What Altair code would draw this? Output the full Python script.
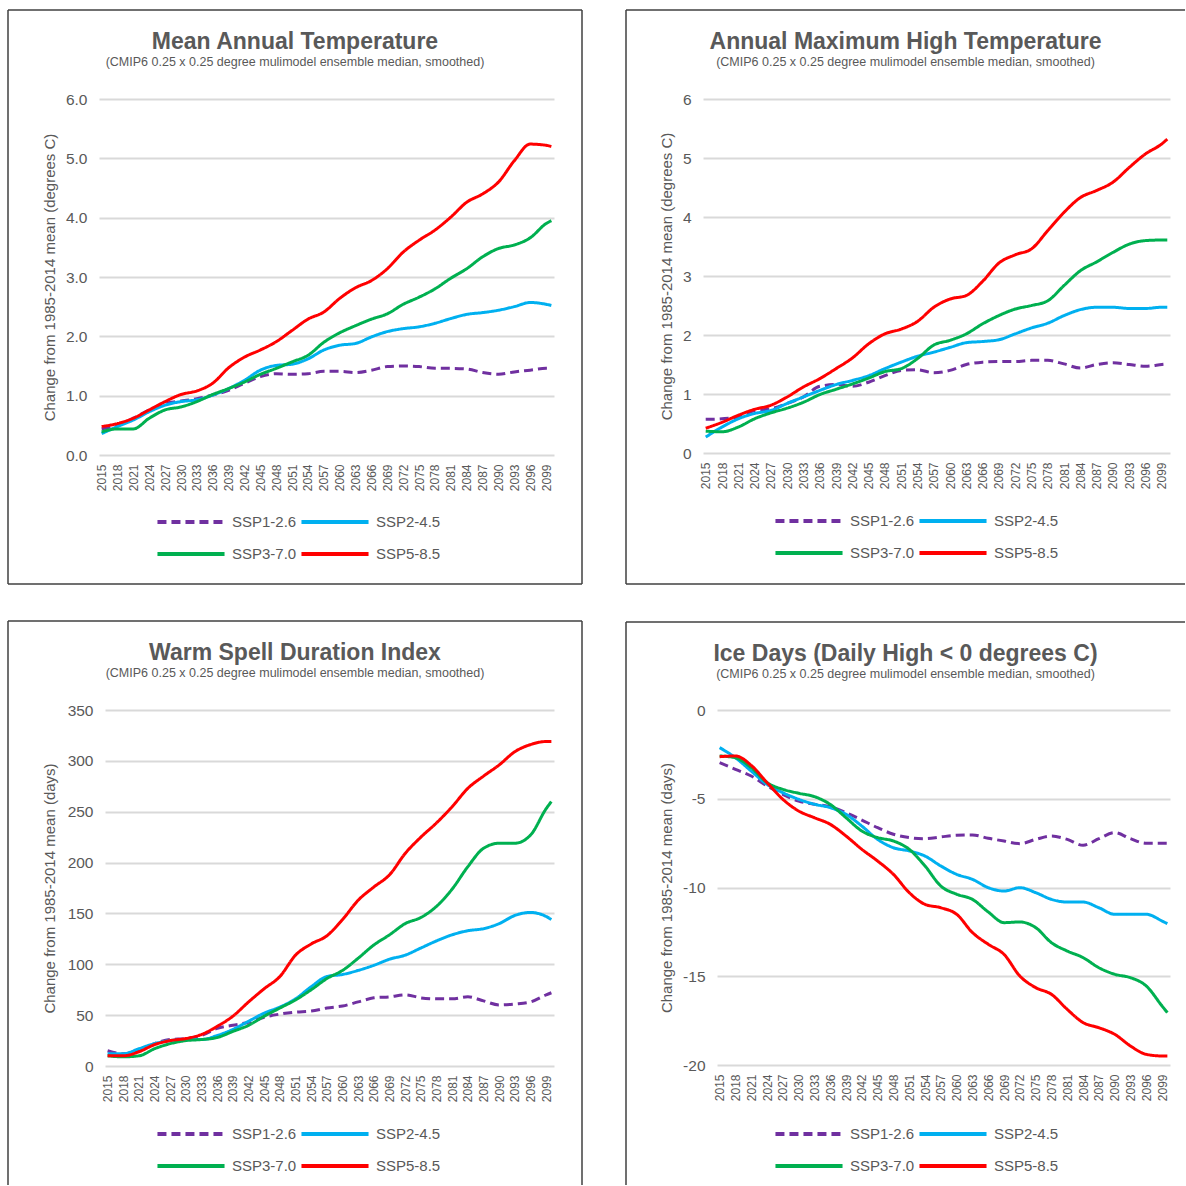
import altair as alt
import pandas as pd

# Smoothed ensemble-median projections, read every third year (plus 2100)
years = [2015, 2018, 2021, 2024, 2027, 2030, 2033, 2036, 2039, 2042,
         2045, 2048, 2051, 2054, 2057, 2060, 2063, 2066, 2069, 2072,
         2075, 2078, 2081, 2084, 2087, 2090, 2093, 2096, 2099, 2100]
tick_years = list(range(2015, 2100, 3))

scenarios = ["SSP1-2.6", "SSP2-4.5", "SSP3-7.0", "SSP5-8.5"]
legend_order = ["SSP1-2.6", "SSP3-7.0", "SSP2-4.5", "SSP5-8.5"]
colors = ["#7030A0", "#00B0F0", "#00B050", "#FF0000"]
dashes = [[9, 5], [1, 0], [1, 0], [1, 0]]

# Mean annual temperature change (degrees C)
tmean_ssp126 = [0.44, 0.50, 0.62, 0.76, 0.87, 0.91, 0.95, 1.01, 1.09, 1.21, 1.32, 1.37, 1.36, 1.37, 1.41,
                1.41, 1.39, 1.43, 1.49, 1.50, 1.49, 1.46, 1.46, 1.45, 1.39, 1.36, 1.40, 1.43, 1.46, 1.46]
tmean_ssp245 = [0.36, 0.48, 0.59, 0.73, 0.84, 0.90, 0.93, 1.01, 1.12, 1.26, 1.43, 1.51, 1.53, 1.62, 1.77,
                1.85, 1.88, 1.99, 2.08, 2.13, 2.16, 2.22, 2.30, 2.37, 2.40, 2.44, 2.50, 2.57, 2.54, 2.52]
tmean_ssp370 = [0.39, 0.44, 0.44, 0.62, 0.76, 0.81, 0.90, 1.02, 1.12, 1.23, 1.36, 1.46, 1.57, 1.68, 1.90,
                2.06, 2.18, 2.29, 2.38, 2.54, 2.66, 2.80, 2.98, 3.14, 3.34, 3.48, 3.54, 3.66, 3.90, 3.95]
tmean_ssp585 = [0.48, 0.53, 0.62, 0.76, 0.90, 1.02, 1.08, 1.21, 1.47, 1.65, 1.77, 1.91, 2.10, 2.29, 2.41,
                2.64, 2.82, 2.94, 3.14, 3.42, 3.62, 3.79, 4.01, 4.26, 4.40, 4.60, 4.96, 5.24, 5.22, 5.20]

# Annual maximum high temperature change (degrees C)
tmax_ssp126 = [0.57, 0.58, 0.61, 0.72, 0.75, 0.84, 0.95, 1.13, 1.16, 1.13, 1.20, 1.31, 1.40, 1.41, 1.36,
               1.40, 1.50, 1.54, 1.55, 1.55, 1.57, 1.57, 1.51, 1.44, 1.50, 1.53, 1.50, 1.47, 1.50, 1.51]
tmax_ssp245 = [0.27, 0.44, 0.58, 0.67, 0.72, 0.84, 0.95, 1.06, 1.16, 1.23, 1.31, 1.43, 1.54, 1.64, 1.71,
               1.79, 1.87, 1.89, 1.92, 2.02, 2.12, 2.20, 2.33, 2.43, 2.47, 2.47, 2.45, 2.45, 2.47, 2.47]
tmax_ssp370 = [0.37, 0.36, 0.44, 0.58, 0.68, 0.76, 0.86, 0.99, 1.08, 1.17, 1.27, 1.38, 1.43, 1.60, 1.83,
               1.91, 2.02, 2.19, 2.33, 2.44, 2.50, 2.58, 2.84, 3.09, 3.24, 3.40, 3.54, 3.60, 3.61, 3.61]
tmax_ssp585 = [0.42, 0.52, 0.64, 0.74, 0.81, 0.95, 1.12, 1.26, 1.43, 1.61, 1.85, 2.02, 2.10, 2.23, 2.47,
               2.61, 2.67, 2.91, 3.22, 3.36, 3.46, 3.77, 4.08, 4.33, 4.45, 4.59, 4.84, 5.07, 5.24, 5.32]

# Warm spell duration index change (days)
wsdi_ssp126 = [15, 12, 15, 22, 26, 27, 30, 37, 40, 43, 48, 51, 53, 54, 57,
               59, 63, 67, 68, 70, 67, 66, 66, 68, 64, 60, 61, 63, 70, 72]
wsdi_ssp245 = [12, 12, 17, 22, 25, 26, 26, 30, 36, 44, 52, 58, 66, 78, 88,
               90, 94, 99, 105, 109, 116, 123, 129, 133, 135, 140, 148, 151, 147, 144]
wsdi_ssp370 = [10, 9, 10, 17, 22, 25, 26, 28, 34, 40, 49, 57, 65, 75, 86,
               94, 106, 119, 129, 140, 146, 157, 174, 196, 214, 219, 219, 227, 253, 260]
wsdi_ssp585 = [10, 10, 14, 21, 25, 27, 31, 39, 49, 63, 76, 88, 109, 120, 128,
               144, 163, 176, 188, 209, 225, 239, 255, 273, 285, 296, 309, 316, 319, 319]

# Ice days (daily high below 0 degrees C) change (days)
ice_ssp126 = [-2.97, -3.34, -3.72, -4.28, -4.75, -5.13, -5.31, -5.45, -5.78, -6.20, -6.63, -7.00, -7.19, -7.25, -7.15,
              -7.06, -7.04, -7.23, -7.38, -7.53, -7.29, -7.10, -7.29, -7.62, -7.25, -6.91, -7.25, -7.51, -7.51, -7.51]
ice_ssp245 = [-2.12, -2.69, -3.44, -4.19, -4.66, -5.03, -5.31, -5.50, -5.88, -6.54, -7.29, -7.76, -7.94, -8.23, -8.79,
              -9.26, -9.54, -10.01, -10.20, -10.01, -10.29, -10.67, -10.82, -10.82, -11.14, -11.51, -11.51, -11.51, -11.89, -12.04]
ice_ssp370 = [-2.59, -2.69, -3.25, -4.09, -4.47, -4.69, -4.88, -5.32, -6.07, -6.82, -7.19, -7.38, -7.85, -8.79, -9.92,
              -10.38, -10.67, -11.38, -11.98, -11.94, -12.26, -13.11, -13.58, -13.95, -14.52, -14.89, -15.08, -15.55, -16.68, -17.05]
ice_ssp585 = [-2.63, -2.59, -3.12, -4.09, -5.03, -5.69, -6.07, -6.44, -7.10, -7.85, -8.51, -9.26, -10.29, -10.95, -11.14,
              -11.51, -12.54, -13.20, -13.77, -14.99, -15.64, -16.02, -16.87, -17.61, -17.90, -18.27, -18.93, -19.40, -19.49, -19.49]

SUBTITLE = "(CMIP6 0.25 x 0.25 degree mulimodel ensemble median, smoothed)"
FONT = "Liberation Sans"
TEXT = "#595959"
GRID = "#d9d9d9"
BOX = "#404040"


def frame_rules(left, right, top, bottom, sides):
    """Panel border drawn as separate rules; sides the page edge cuts off are skipped."""
    one = pd.DataFrame({"k": [0]})
    segs = {
        "top": dict(x=alt.value(left), x2=alt.value(right), y=alt.value(top)),
        "bottom": dict(x=alt.value(left), x2=alt.value(right), y=alt.value(bottom)),
        "left": dict(y=alt.value(top), y2=alt.value(bottom), x=alt.value(left)),
        "right": dict(y=alt.value(top), y2=alt.value(bottom), x=alt.value(right)),
    }
    return [
        alt.Chart(one).mark_rule(stroke=BOX, strokeWidth=1.5).encode(**segs[s])
        for s in sides
    ]


def panel(title, ytitle, series, ydomain, ystep, yfmt, width, height,
          frame, sides, legend_xy, inset=0, title_pad=8, plain_minus=False):
    rows = []
    for name, vals in zip(scenarios, series):
        for yr, v in zip(years, vals):
            rows.append({"year": yr, "scenario": name, "value": v})
    df = pd.DataFrame(rows)

    yvals = []
    v = ydomain[0]
    while v <= ydomain[1] + 1e-9:
        yvals.append(round(v, 6))
        v += ystep

    legend = alt.Legend(
        orient="none", legendX=legend_xy[0], legendY=legend_xy[1],
        columns=2, values=legend_order, title=None,
        symbolType="stroke", symbolSize=4500, symbolStrokeWidth=4,
        clipHeight=16,
        labelFont=FONT, labelFontSize=15, labelColor=TEXT,
        labelOffset=5, columnPadding=2, rowPadding=16,
    )

    xscale = alt.Scale(domain=[2014.5, 2100.5], nice=False, zero=False)
    if inset:
        # plot area starts a little right of the column's shared origin
        xscale = alt.Scale(domain=[2014.5, 2100.5], nice=False, zero=False,
                           range=[inset, width])

    yaxis_kw = dict(values=yvals, format=yfmt, title=ytitle,
                    grid=True, gridColor=GRID, gridWidth=1.8,
                    domain=False, ticks=False,
                    labelFont=FONT, labelFontSize=15.5, labelColor=TEXT,
                    labelPadding=12,
                    titleFont=FONT, titleFontSize=15, titleColor=TEXT,
                    titleFontWeight="normal", titlePadding=title_pad)
    if inset:
        yaxis_kw["offset"] = -inset
    if plain_minus:
        # negative labels written with an ASCII hyphen
        yaxis_kw["labelExpr"] = "'' + datum.value"

    lines = alt.Chart(df).mark_line(
        strokeWidth=3, interpolate="monotone", strokeJoin="round"
    ).encode(
        x=alt.X("year:Q", scale=xscale,
                axis=alt.Axis(values=tick_years, format="d", labelAngle=-90,
                              labelFont=FONT, labelFontSize=12, labelColor=TEXT,
                              labelPadding=9, labelOverlap=False, labelFlush=False,
                              grid=False, ticks=False, domain=False, title=None)),
        y=alt.Y("value:Q",
                scale=alt.Scale(domain=list(ydomain), nice=False, zero=False),
                axis=alt.Axis(**yaxis_kw)),
        color=alt.Color("scenario:N",
                        scale=alt.Scale(domain=scenarios, range=colors),
                        legend=legend),
        strokeDash=alt.StrokeDash("scenario:N",
                                  scale=alt.Scale(domain=scenarios, range=dashes),
                                  legend=legend),
    )

    return alt.layer(*frame_rules(*frame, sides), lines).properties(
        width=width, height=height,
        title=alt.TitleParams(
            text=title, subtitle=SUBTITLE, anchor="middle", frame="bounds",
            font=FONT, fontSize=23, fontWeight="bold", color=TEXT,
            subtitleFont=FONT, subtitleFontSize=12.5, subtitleColor=TEXT,
            subtitlePadding=2, offset=-59,
        ),
    )


p1 = panel("Mean Annual Temperature", "Change from 1985-2014 mean (degrees C)",
           [tmean_ssp126, tmean_ssp245, tmean_ssp370, tmean_ssp585],
           (0, 6), 1, ".1f", 455, 356,
           (-91, 483, -89, 485), ["top", "bottom", "left", "right"], (56, 415))
p2 = panel("Annual Maximum High Temperature", "Change from 1985-2014 mean (degrees C)",
           [tmax_ssp126, tmax_ssp245, tmax_ssp370, tmax_ssp585],
           (0, 6), 1, "d", 467, 354,
           (-77, 482, -89, 485), ["top", "bottom", "left"], (70, 414))
p3 = panel("Warm Spell Duration Index", "Change from 1985-2014 mean (days)",
           [wsdi_ssp126, wsdi_ssp245, wsdi_ssp370, wsdi_ssp585],
           (0, 350), 50, "d", 455, 356,
           (-91, 483, -89, 475), ["top", "left", "right"], (56, 416),
           inset=6, title_pad=9.5)
p4 = panel("Ice Days (Daily High < 0 degrees C)", "Change from 1985-2014 mean (days)",
           [ice_ssp126, ice_ssp245, ice_ssp370, ice_ssp585],
           (-20, 0), 5, "d", 467, 355,
           (-77, 482, -88, 475), ["top", "left"], (70, 416), inset=14,
           plain_minus=True)

chart = alt.concat(
    p1, p2, p3, p4, columns=2,
    spacing={"row": 35, "column": 42},
).resolve_scale(
    color="independent", strokeDash="independent"
).properties(
    padding={"left": 7, "top": 9, "right": 0, "bottom": 0},
    background="white",
).configure_view(stroke=None)

chart.save("out.html", embed_options={"renderer": "svg", "actions": False})
